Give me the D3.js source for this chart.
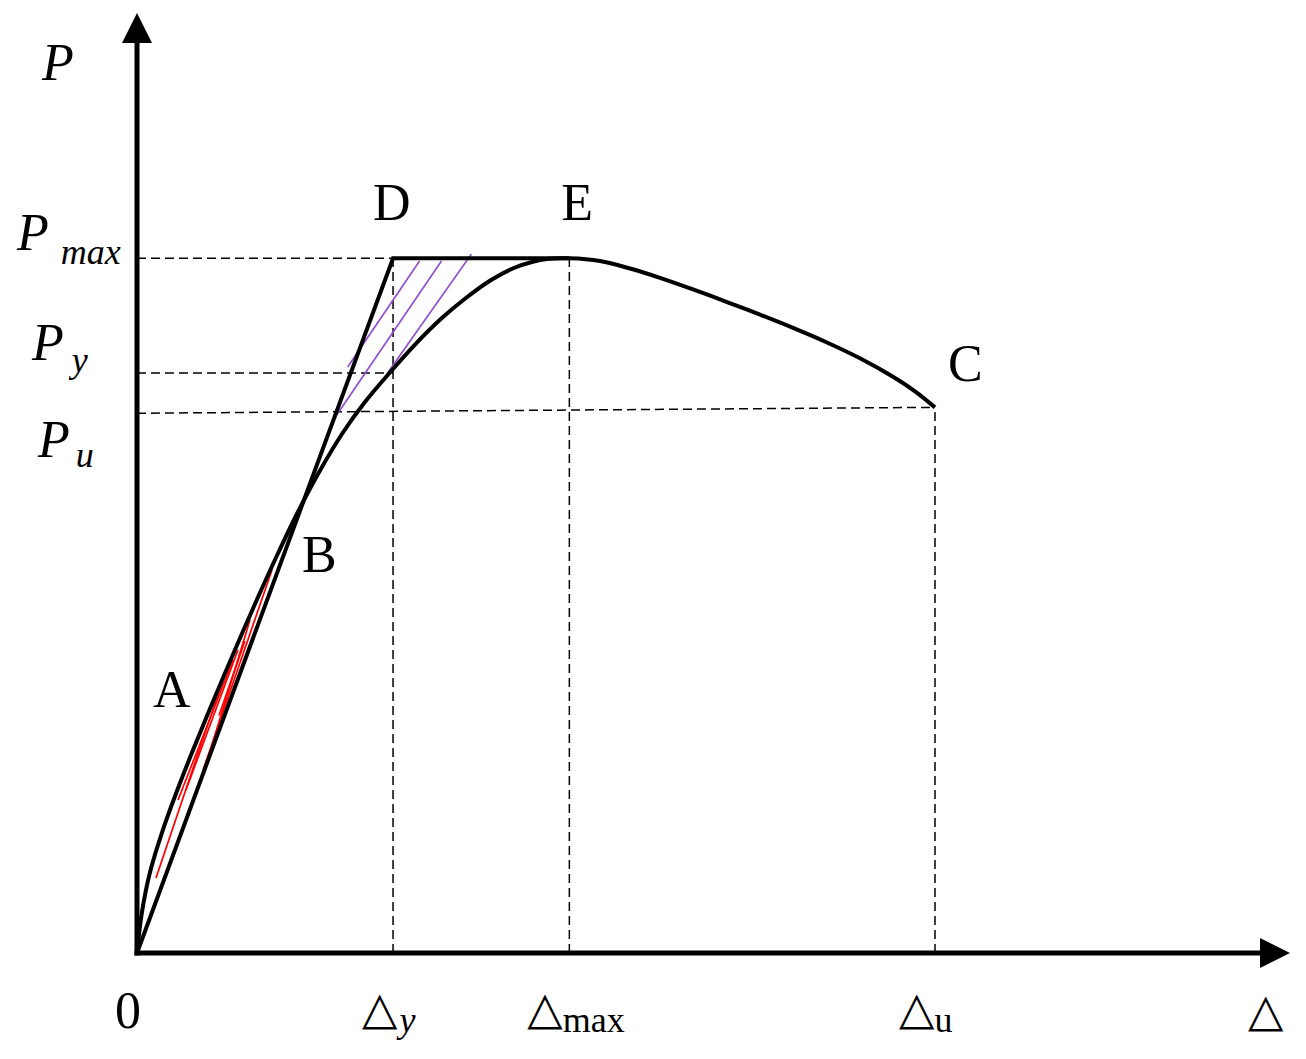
<!DOCTYPE html>
<html>
<head>
<meta charset="utf-8">
<title>P-Δ curve</title>
<style>
  body { margin: 0; background: #fff; }
  text { font-family: 'Liberation Serif', 'Times New Roman', serif; fill: #000; }
  .tri { font-family: 'DejaVu Sans', sans-serif; }
  .axis { stroke: #000; stroke-width: 5; fill: none; }
  .curve { stroke: #000; stroke-width: 4; fill: none; stroke-linejoin: miter; }
  .guide { stroke: #000; stroke-width: 1.5; stroke-dasharray: 9,5; fill: none; }
</style>
</head>
<body>
<script src="https://d3js.org/d3.v7.min.js"></script>
<script>

var width = 1306;
var height = 1059;

// axis extent (arbitrary units)
var xMax = 100;
var yMax = 131;

// characteristic displacements and loads
var dispY = 22.8, dispMax = 38.5, dispU = 71.06;
var loadMax = 100, loadY = 83.5, loadU = 77.7, loadC = 78.55;

// measured load-displacement curve (0 -> A -> B -> E -> C)
var curveX = [0, 0.43, 1.14, 2.21, 3.49, 4.88, 6.34, 7.84, 9.37, 10.94, 12.57, 14.28,
  16.17, 18.31, 20.23, 22.48, 24.88, 27.15, 29.29, 31.53, 33.56, 35.17, 36.5, 38.5,
  41.23, 43.9, 46.57, 49.51, 52.54, 55.48, 58.42, 61.44, 64.38, 67.32, 69.28, 71.06];
var curveY = [0, 5.76, 11.52, 17.27, 23.03, 28.79, 34.55, 40.31, 46.07, 51.82, 57.58, 63.34,
  69.1, 74.86, 79.18, 83.49, 87.81, 91.41, 94.29, 96.88, 98.61, 99.47, 99.9, 100,
  99.62, 98.54, 97.2, 95.53, 93.71, 91.89, 89.99, 87.89, 85.61, 82.95, 80.86, 78.55];

// idealised bilinear line 0 - D - E
var bilinX = [0, dispY, dispMax];
var bilinY = [0, loadMax, loadMax];

// hatch strokes [x1, y1, x2, y2]
var redHatch = [
  [1.69, 10.8, 8.1, 41.46],
  [3.65, 22.03, 8.55, 42.18],
  [4.36, 23.47, 8.99, 43.62],
  [5.88, 26.34, 12.02, 55.14],
  [6.68, 29.94, 10.06, 47.94],
  [7.3, 34.2, 9.6, 44.9]
];
var purpleHatch = [
  [18.76, 84.35, 25.16, 99.61],
  [17.6, 77.01, 27.11, 99.61],
  [22.31, 83.49, 29.78, 100.62]
];

var svg = d3.select('body').append('svg')
  .attr('width', width)
  .attr('height', height);

var x = d3.scaleLinear().domain([0, xMax]).range([137, 1260]);
var y = d3.scaleLinear().domain([0, yMax]).range([953, 43]);

// dashed guides
var guides = [
  [0, loadMax, dispY, loadMax],
  [0, loadY, dispY, loadY],
  [0, loadU, dispU, loadC],
  [dispY, 0, dispY, loadMax],
  [dispMax, 0, dispMax, loadMax],
  [dispU, 0, dispU, loadC]
];
svg.selectAll('.guide').data(guides).enter().append('line')
  .attr('class', 'guide')
  .attr('x1', function (d) { return x(d[0]); })
  .attr('y1', function (d) { return y(d[1]); })
  .attr('x2', function (d) { return x(d[2]); })
  .attr('y2', function (d) { return y(d[3]); });

// hatching
function hatch (data, color) {
  svg.append('g').selectAll('line').data(data).enter().append('line')
    .attr('x1', function (d) { return x(d[0]); })
    .attr('y1', function (d) { return y(d[1]); })
    .attr('x2', function (d) { return x(d[2]); })
    .attr('y2', function (d) { return y(d[3]); })
    .attr('stroke', color)
    .attr('stroke-width', 1.7);
}
hatch(redHatch, '#ff0000');
hatch(purpleHatch, '#9450cc');

// curves
var line = d3.line()
  .x(function (d) { return x(d[0]); })
  .y(function (d) { return y(d[1]); });

svg.append('path')
  .attr('class', 'curve')
  .attr('d', line.curve(d3.curveCatmullRom.alpha(0.5))(d3.zip(curveX, curveY)));

svg.append('path')
  .attr('class', 'curve')
  .attr('d', line.curve(d3.curveLinear)(d3.zip(bilinX, bilinY)));

// axes with arrow heads
svg.append('line').attr('class', 'axis')
  .attr('x1', x(0)).attr('y1', y(0) + 2.5).attr('x2', x(0)).attr('y2', y(yMax));
svg.append('line').attr('class', 'axis')
  .attr('x1', x(0) - 2.5).attr('y1', y(0)).attr('x2', x(xMax)).attr('y2', y(0));

svg.append('path')
  .attr('d', 'M' + x(0) + ',' + (y(yMax) - 30) + 'L' + (x(0) - 15) + ',' + y(yMax) + 'L' + (x(0) + 15) + ',' + y(yMax) + 'Z');
svg.append('path')
  .attr('d', 'M' + (x(xMax) + 30) + ',' + y(0) + 'L' + x(xMax) + ',' + (y(0) - 15) + 'L' + x(xMax) + ',' + (y(0) + 15) + 'Z');

// labels
function label (px, py, main, sub, opts) {
  opts = opts || {};
  var t = svg.append('text')
    .attr('x', px).attr('y', py)
    .style('font-size', '52px');
  var m = t.append('tspan').text(main);
  if (opts.italic) m.style('font-style', 'italic');
  if (opts.tri) m.attr('class', 'tri').style('font-size', '46px');
  if (sub) {
    var s = t.append('tspan')
      .attr('dx', opts.gap || 0)
      .attr('dy', opts.drop || 12)
      .style('font-size', '36px')
      .text(sub);
    if (opts.subItalic) s.style('font-style', 'italic');
  }
}

label(42, 80, 'P', null, { italic: true });
label(17, y(loadMax) - 8, 'P', 'max', { italic: true, subItalic: true, gap: 12, drop: 14 });
label(32, y(loadY) - 13, 'P', 'y', { italic: true, subItalic: true, gap: 8, drop: 12 });
label(38, y(loadU) + 44, 'P', 'u', { italic: true, subItalic: true, gap: 6, drop: 10 });

label(x(dispY) - 20, y(loadMax) - 38, 'D');
label(x(dispMax) - 8, y(loadMax) - 38, 'E');
label(x(dispU) + 13, y(loadC) - 26, 'C');
label(302, 572, 'B');
label(153, 707, 'A');

label(x(0) - 22, 1028, '0');
label(x(dispY) - 31, 1024, '\u25B3', 'y', { tri: true, subItalic: true, gap: 2, drop: 8 });
label(x(dispMax) - 42, 1024, '\u25B3', 'max', { tri: true, gap: 0, drop: 8 });
label(x(dispU) - 36, 1024, '\u25B3', 'u', { tri: true, gap: 0, drop: 8 });
label(1248, 1026, '\u25B3', null, { tri: true });

</script>
</body>
</html>
